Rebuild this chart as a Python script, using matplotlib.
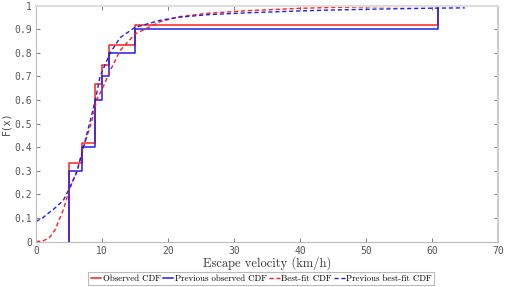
import matplotlib
matplotlib.use("Agg")
import matplotlib.pyplot as plt

# Observed samples (step CDF levels)
obs_x = [5, 7, 9, 10, 11, 15, 61]
obs_F = [0.3333, 0.4167, 0.6667, 0.75, 0.8333, 0.9167, 1.0]
prev_x = [5, 7, 9, 10, 11, 15, 61]
prev_F = [0.3, 0.4, 0.6, 0.7, 0.8, 0.9, 1.0]

# Best-fit curves
fit_x = [0, 1, 2, 2.9, 4.15, 5.06, 6.2, 7.2, 8.45, 9.2, 10.2, 11.25, 12.75, 15, 18.8, 21.6, 26, 32, 40, 45, 52, 61, 65]
fit_F = [0.0, 0.002, 0.015, 0.05, 0.135, 0.22, 0.30, 0.40, 0.51, 0.60, 0.657, 0.725, 0.81, 0.88, 0.932, 0.953, 0.968, 0.979, 0.989, 0.993, 0.996, 0.998, 0.999]
pfit_x = [0, 1, 2.1, 3, 4.15, 5.06, 6.2, 7.2, 8.2, 9.0, 9.7, 11.25, 12.75, 15, 18.8, 21.6, 26, 32, 40, 45, 52, 61, 65]
pfit_F = [0.085, 0.10, 0.125, 0.145, 0.175, 0.225, 0.295, 0.40, 0.51, 0.60, 0.70, 0.80, 0.865, 0.908, 0.938, 0.951, 0.962, 0.970, 0.978, 0.982, 0.986, 0.99, 0.991]

xticks = list(range(0, 71, 10))
yticks = [0, 0.1, 0.2, 0.3, 0.4, 0.5, 0.6, 0.7, 0.8, 0.9, 1]
ytick_labels = ["0", "0.1", "0.2", "0.3", "0.4", "0.5", "0.6", "0.7", "0.8", "0.9", "1"]

RED = "#ff2020"
BLUE = "#2020e8"

fig = plt.figure(figsize=(5.18, 2.87), dpi=100)
ax = fig.add_axes([0.0695, 0.1585, 0.8915, 0.8215])

def stairs(xs, Fs):
    sx = [xs[0]]
    sy = [0.0]
    prev = 0.0
    for x, f in zip(xs, Fs):
        sx += [x, x]
        sy += [prev, f]
        prev = f
    return sx, sy

sx, sy = stairs(obs_x, obs_F)
ax.plot(sx, sy, color=RED, lw=1.1, label="Observed CDF")
sx, sy = stairs(prev_x, prev_F)
ax.plot(sx, sy, color=BLUE, lw=1.1, label="Previous observed CDF")
ax.plot(fit_x, fit_F, color=RED, lw=1.0, ls=(0, (3, 2)), label="Best-fit CDF")
ax.plot(pfit_x, pfit_F, color=BLUE, lw=1.0, ls=(0, (3, 2)), label="Previous best-fit CDF")

ax.set_xlim(0, 70)
ax.set_ylim(0, 1)
ax.set_xticks(xticks)
ax.set_yticks(yticks)
ax.set_yticklabels(ytick_labels)
ax.tick_params(direction="in", length=3, width=0.6, colors="#666666", labelsize=7,
               top=True, right=True, pad=3)
for lab in ax.get_xticklabels() + ax.get_yticklabels():
    lab.set_family("DejaVu Sans Mono")
    lab.set_color("#555555")
for s in ax.spines.values():
    s.set_color("#bbbbbb")
    s.set_linewidth(0.8)
ax.spines["top"].set_color("#dddddd")
ax.spines["right"].set_color("#cccccc")
ax.spines["top"].set_linewidth(1.5)
ax.spines["right"].set_linewidth(1.5)

ax.set_xlabel("Escape velocity (km/h)", family="cmr10", fontsize=9, color="#333333", labelpad=0)
ax.set_ylabel("F(x)", family="DejaVu Sans Mono", fontsize=7, color="#444444", labelpad=2)

leg = fig.legend(loc="lower center", bbox_to_anchor=(0.504, 0.006), ncol=4,
                 prop={"family": "cmr10", "size": 6.4}, frameon=True, fancybox=False,
                 handlelength=1.2, handletextpad=0.15, columnspacing=0.25,
                 borderpad=0.3, borderaxespad=0)
leg.get_frame().set_edgecolor("#aaaaaa")
leg.get_frame().set_linewidth(0.8)

fig.savefig("out.png", dpi=100)
